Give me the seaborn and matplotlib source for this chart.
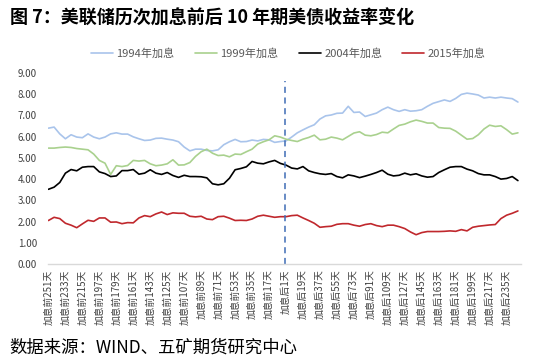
import numpy as np
import pandas as pd
import seaborn as sns
import matplotlib.pyplot as plt

sns.set_theme(style="white")
plt.rcParams['font.family'] = ['Noto Sans CJK SC', 'DejaVu Sans']
plt.rcParams['axes.unicode_minus'] = False

# === Data: 10Y UST yield, read every 6 trading days starting at 加息前251天 ===
step = 6
y1994 = [6.40, 6.45, 6.13, 5.90, 6.09, 5.98, 5.95, 6.13, 5.98, 5.90,
         5.98, 6.13, 6.18, 6.12, 6.12, 5.99, 5.90, 5.82, 5.84, 5.92,
         5.93, 5.88, 5.84, 5.76, 5.51, 5.33, 5.41, 5.41, 5.35, 5.33,
         5.38, 5.62, 5.76, 5.87, 5.76, 5.77, 5.84, 5.80, 5.87, 5.85,
         5.73, 5.77, 5.80, 5.98, 6.18, 6.32, 6.45, 6.56, 6.83, 6.98,
         7.02, 7.10, 7.11, 7.43, 7.14, 7.16, 6.95, 7.03, 7.11, 7.27,
         7.39, 7.27, 7.19, 7.27, 7.20, 7.22, 7.27, 7.43, 7.57, 7.65,
         7.73, 7.66, 7.80, 7.99, 8.05, 8.01, 7.96, 7.82, 7.86, 7.82,
         7.86, 7.82, 7.79, 7.63]
y1999 = [5.46, 5.46, 5.49, 5.51, 5.49, 5.44, 5.41, 5.38, 5.18, 4.88,
         4.75, 4.22, 4.63, 4.59, 4.64, 4.88, 4.85, 4.88, 4.72, 4.63,
         4.66, 4.72, 4.91, 4.66, 4.67, 4.78, 5.07, 5.29, 5.41, 5.22,
         5.11, 5.13, 5.05, 5.18, 5.16, 5.29, 5.41, 5.65, 5.76, 5.85,
         6.04, 5.98, 5.88, 5.82, 5.77, 5.88, 5.96, 6.07, 5.85, 5.88,
         5.98, 5.93, 5.85, 6.01, 6.17, 6.23, 6.07, 6.04, 6.10, 6.21,
         6.18, 6.36, 6.53, 6.59, 6.70, 6.78, 6.72, 6.64, 6.64, 6.43,
         6.40, 6.39, 6.26, 6.07, 5.88, 5.91, 6.09, 6.36, 6.54, 6.48,
         6.51, 6.33, 6.12, 6.18]
y2004 = [3.52, 3.62, 3.84, 4.28, 4.45, 4.39, 4.56, 4.59, 4.59, 4.34,
         4.26, 4.12, 4.15, 4.40, 4.40, 4.45, 4.23, 4.28, 4.44, 4.28,
         4.22, 4.31, 4.17, 4.08, 4.18, 4.12, 4.12, 4.11, 4.06, 3.78,
         3.73, 3.78, 4.04, 4.44, 4.50, 4.58, 4.83, 4.75, 4.72, 4.81,
         4.88, 4.74, 4.66, 4.52, 4.48, 4.59, 4.39, 4.31, 4.25, 4.22,
         4.26, 4.12, 4.06, 4.20, 4.15, 4.07, 4.14, 4.22, 4.31, 4.42,
         4.23, 4.15, 4.18, 4.28, 4.20, 4.25, 4.15, 4.09, 4.12, 4.31,
         4.44, 4.56, 4.59, 4.59, 4.47, 4.39, 4.26, 4.20, 4.20, 4.12,
         4.00, 4.03, 4.12, 3.93]
y2015 = [2.05, 2.20, 2.14, 1.92, 1.83, 1.71, 1.89, 2.06, 2.01, 2.17,
         2.17, 1.97, 1.98, 1.90, 1.95, 1.94, 2.17, 2.28, 2.23, 2.36,
         2.45, 2.33, 2.41, 2.39, 2.39, 2.25, 2.22, 2.25, 2.12, 2.09,
         2.23, 2.25, 2.16, 2.05, 2.06, 2.05, 2.12, 2.25, 2.30, 2.25,
         2.20, 2.23, 2.23, 2.28, 2.30, 2.17, 2.05, 1.92, 1.73, 1.76,
         1.78, 1.87, 1.90, 1.90, 1.83, 1.78, 1.86, 1.90, 1.81, 1.76,
         1.83, 1.83, 1.76, 1.67, 1.51, 1.38, 1.48, 1.53, 1.53, 1.53,
         1.54, 1.56, 1.54, 1.62, 1.56, 1.73, 1.78, 1.81, 1.84, 1.86,
         2.14, 2.30, 2.39, 2.50]

series_names = ['1994年加息', '1999年加息', '2004年加息', '2015年加息']
colors = ['#A9C4EB', '#A9D18E', '#000000', '#C0282D']

pre_days = 251
post_days = 250
day_labels = ([f"加息前{k}天" for k in range(pre_days, 0, -1)] + ["加息当天"]
              + [f"加息后{k}天" for k in range(1, post_days + 1)])
hike_idx = day_labels.index("加息当天")

# long-form table for seaborn
frames = []
for name, vals in zip(series_names, [y1994, y1999, y2004, y2015]):
    frames.append(pd.DataFrame({'idx': np.arange(len(vals)) * step,
                                'value': vals, 'series': name}))
df = pd.concat(frames, ignore_index=True)

# === Plot ===
fig = plt.figure(figsize=(5.39, 3.63), dpi=100)
ax = fig.add_axes([0.089, 0.2727, 0.878, 0.5263])

sns.lineplot(data=df, x='idx', y='value', hue='series', hue_order=series_names,
             palette=colors, linewidth=1.2, ax=ax, estimator=None, sort=False)

ax.axvline(hike_idx, ymin=0, ymax=0.96, color='#3F6CB5',
           linestyle=(0, (4, 3)), linewidth=1.1)

ax.set_xlim(-0.5, len(day_labels) - 0.5)
ax.set_ylim(0, 9)
tick_pos = list(range(0, len(day_labels), 18))
ax.set_xticks(tick_pos)
ax.set_xticklabels([day_labels[i] for i in tick_pos], rotation=90,
                   fontsize=7, color='#404040')
ax.set_yticks(range(0, 10))
ax.set_yticklabels([f"{v:.2f}" for v in range(0, 10)], fontsize=7, color='#404040')
ax.tick_params(axis='x', length=0, pad=4)
ax.tick_params(axis='y', length=0, pad=8)
ax.set_xlabel('')
ax.set_ylabel('')
ax.grid(False)
for side in ['top', 'right', 'left']:
    ax.spines[side].set_visible(False)
ax.spines['bottom'].set_color('#D9D9D9')
ax.spines['bottom'].set_linewidth(1.0)

handles, labels = ax.get_legend_handles_labels()
ax.legend(handles, labels, loc='center', bbox_to_anchor=(0.535, 0.853),
          bbox_transform=fig.transFigure, ncol=4, frameon=False, fontsize=8,
          handlelength=2.0, handletextpad=0.3, columnspacing=1.8,
          labelcolor='#595959')

fig.text(0.018, 0.95, "图 7：美联储历次加息前后 10 年期美债收益率变化",
         fontsize=13, fontweight='bold', ha='left', va='center', color='black')
fig.text(0.018, 0.042, "数据来源：WIND、五矿期货研究中心",
         fontsize=12.5, ha='left', va='center', color='black')

fig.savefig('out.png', dpi=100)
